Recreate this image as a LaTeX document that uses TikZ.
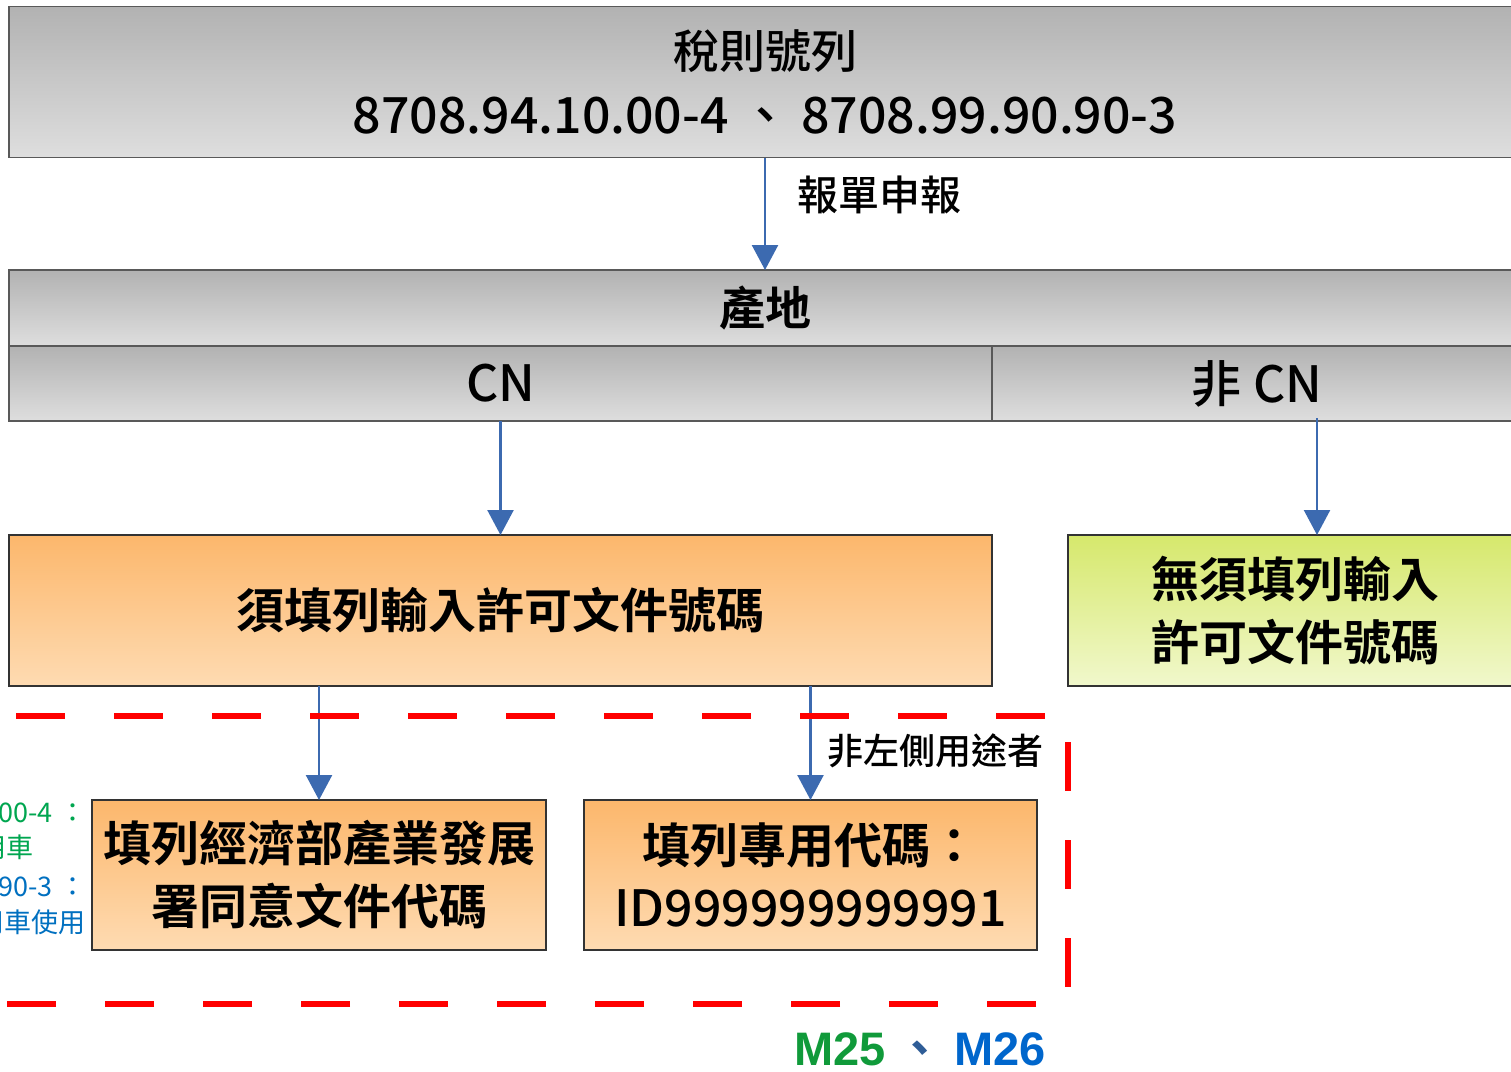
\documentclass[tikz,border=0pt]{standalone}
\usepackage{fontspec}
\setmainfont{Noto Sans CJK TC}[BoldFont={Noto Sans CJK TC Bold}]
\newfontfamily\cjkmed{Noto Sans CJK TC Medium}
\newfontfamily\arialb{Liberation Sans}[BoldFont={Liberation Sans Bold}]
\usetikzlibrary{arrows.meta}
\definecolor{grayA}{RGB}{178,178,178}
\definecolor{grayB}{RGB}{222,222,222}
\definecolor{oraA}{RGB}{252,183,108}
\definecolor{oraB}{RGB}{254,219,178}
\definecolor{grnA}{RGB}{214,232,108}
\definecolor{grnB}{RGB}{241,248,204}
\definecolor{arrowblue}{RGB}{60,106,176}
\definecolor{mgreen}{RGB}{16,154,58}
\definecolor{mblue}{RGB}{0,102,204}
\definecolor{sepblue}{RGB}{47,93,151}
\definecolor{lgreen}{RGB}{0,166,80}
\definecolor{lblue}{RGB}{0,112,192}
\tikzset{
  base/.style={inner sep=0pt, outer sep=0pt, align=center},
  graybox/.style={base, draw=black!65, line width=1.3pt, top color=grayA, bottom color=grayB},
  orabox/.style={base, draw=black!80, line width=1.3pt, top color=oraA, bottom color=oraB},
  grnbox/.style={base, draw=black!80, line width=1.3pt, top color=grnA, bottom color=grnB},
  flow/.style={draw=arrowblue, line width=2.4pt, -{Triangle[width=26pt,length=25pt]}},
  reddash/.style={draw=red, line width=5.5pt, dash pattern=on 49pt off 49pt},
  bigtxt/.style={font=\fontsize{48}{63}\selectfont\bfseries},
  note/.style={base, anchor=east, font=\fontsize{27}{27}\selectfont},
}
\begin{document}
\begin{tikzpicture}[x=1pt,y=-1pt]
\useasboundingbox (0,0) rectangle (1511,1071);
\fill[white] (0,0) rectangle (1511,1071);

% top box
\node[graybox, minimum width=1512pt, minimum height=151pt,
      font=\fontsize{46}{65}\selectfont\cjkmed] (hs) at (765,82)
  {稅則號列\\\fontsize{50}{65}\selectfont 8708.94.10.00-4 、 8708.99.90.90-3};

% origin header
\node[graybox, minimum width=1512pt, minimum height=76pt,
      font=\fontsize{46}{50}\selectfont\bfseries] (orig) at (765,308)
  {\raisebox{-8pt}{產地}};
\node[graybox, minimum width=983pt, minimum height=75pt,
      font=\fontsize{50}{50}\selectfont\cjkmed] (cn) at (500.5,383.5) {CN};
\node[graybox, minimum width=530pt, minimum height=75pt,
      font=\fontsize{50}{50}\selectfont\cjkmed] (ncn) at (1257,383.5) {非 CN};

% second level
\node[orabox, bigtxt, minimum width=983pt, minimum height=151pt] (must) at (500.5,610.5)
  {須填列輸入許可文件號碼};
\node[grnbox, bigtxt, minimum width=454pt, minimum height=151pt] (nomust) at (1295,610.5)
  {無須填列輸入\\許可文件號碼};

% third level
\node[orabox, bigtxt, minimum width=454pt, minimum height=150pt] (moea) at (319,875)
  {填列經濟部產業發展\\署同意文件代碼};
\node[orabox, bigtxt, minimum width=453pt, minimum height=150pt] (spec) at (810.5,875)
  {填列專用代碼：\\\mdseries\cjkmed\fontsize{50}{63}\selectfont ID999999999991};

% arrows
\coordinate (ncnx) at (1317,0);
\draw[flow] (hs.south) -- (orig.north)
  node[pos=0.33, right=28pt, anchor=west, font=\fontsize{41}{41}\selectfont\cjkmed] (lbl1) {報單申報};
\draw[flow] (cn.south) -- (must.north);
\draw[flow] ([yshift=3pt]ncn.south -| ncnx) -- (nomust.north -| ncnx);
\draw[flow] (must.south -| moea.north) -- (moea.north);
\draw[flow] (must.south -| spec.north) -- (spec.north)
  node[pos=0.57, anchor=west, xshift=12pt, font=\fontsize{36}{36}\selectfont\cjkmed] (lbl2) {非左側用途者};

% red dashed frame
\draw[reddash] (-82,716) -- (1068,716) -- (1068,1004) -- (-200,1004);

% left notes (cut off)
\node[note, text=lgreen] (n1) at (86,813) {00-4 ：};
\node[note, text=lgreen] (n2) at (34,847) {用車};
\node[note, text=lblue] (n3) at (86,887) {90-3 ：};
\node[note, text=lblue] (n4) at (86,922) {用車使用};

% M25 M26
\node[base, font=\fontsize{47}{47}\selectfont] (mm) at (920,1049)
  {{\arialb\bfseries\color{mgreen}M25} {\color{sepblue}\bfseries 、} {\arialb\bfseries\color{mblue}M26}};
\end{tikzpicture}
\end{document}
